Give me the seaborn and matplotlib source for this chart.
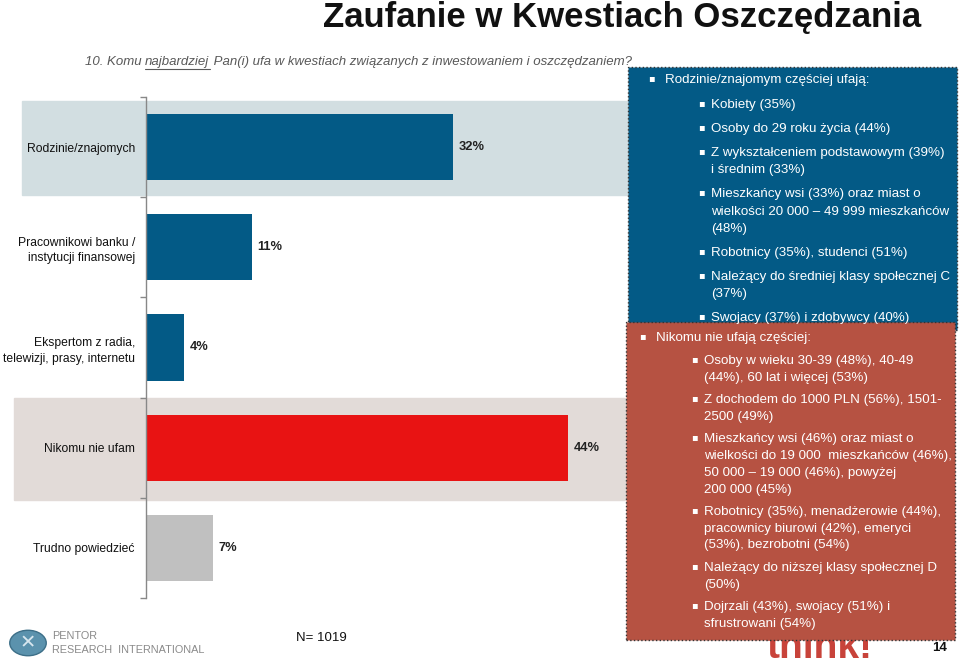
import matplotlib.pyplot as plt
import matplotlib.patches as mpatches
import pandas as pd
import seaborn as sns

# ------------------------------------------------------------------
# DATA
# ------------------------------------------------------------------
categories = [
    "Rodzinie/znajomych",
    "Pracownikowi banku /\ninstytucji finansowej",
    "Ekspertom z radia,\ntelewizji, prasy, internetu",
    "Nikomu nie ufam",
    "Trudno powiedzieć",
]
values = [32, 11, 4, 44, 7]
value_labels = ["32%", "11%", "4%", "44%", "7%"]
bar_colors = ["#035a86", "#035a86", "#035a86", "#e81313", "#c0c0c0"]

title = "Zaufanie w Kwestiach Oszczędzania"
subtitle_parts = ["10. Komu ", "najbardziej", " Pan(i) ufa w kwestiach związanych z inwestowaniem i oszczędzaniem?"]

blue_header = "Rodzinie/znajomym częściej ufają:"
blue_items = [
    ["Kobiety (35%)"],
    ["Osoby do 29 roku życia (44%)"],
    ["Z wykształceniem podstawowym (39%)", "i średnim (33%)"],
    ["Mieszkańcy wsi (33%) oraz miast o", "wielkości 20 000 – 49 999 mieszkańców", "(48%)"],
    ["Robotnicy (35%), studenci (51%)"],
    ["Należący do średniej klasy społecznej C", "(37%)"],
    ["Swojacy (37%) i zdobywcy (40%)"],
]
red_header = "Nikomu nie ufają częściej:"
red_items = [
    ["Osoby w wieku 30-39 (48%), 40-49", "(44%), 60 lat i więcej (53%)"],
    ["Z dochodem do 1000 PLN (56%), 1501-", "2500 (49%)"],
    ["Mieszkańcy wsi (46%) oraz miast o", "wielkości do 19 000  mieszkańców (46%),",
     "50 000 – 19 000 (46%), powyżej", "200 000 (45%)"],
    ["Robotnicy (35%), menadżerowie (44%),", "pracownicy biurowi (42%), emeryci",
     "(53%), bezrobotni (54%)"],
    ["Należący do niższej klasy społecznej D", "(50%)"],
    ["Dojrzali (43%), swojacy (51%) i", "sfrustrowani (54%)"],
]

df = pd.DataFrame({"category": categories, "value": values})

# ------------------------------------------------------------------
# FIGURE
# ------------------------------------------------------------------
sns.set_theme(style="white")
plt.rcParams["font.family"] = ["Liberation Sans", "DejaVu Sans"]

W, H = 960, 670
fig = plt.figure(figsize=(W / 100, H / 100), dpi=100)


def fx(x):
    return x / W


def fy(y):
    return 1 - y / H


ax_left, ax_right, ax_top, ax_bottom = 146, 626, 97, 598
ax = fig.add_axes([fx(ax_left), fy(ax_bottom), fx(ax_right - ax_left), (ax_bottom - ax_top) / H])
ax.patch.set_alpha(0)

# Background bands behind first and fourth category
ax.axhspan(-0.46, 0.48, xmin=(22 - ax_left) / 480, xmax=1.1, color="#d2dee1", zorder=0, clip_on=False)
ax.axhspan(2.5, 3.52, xmin=(14 - ax_left) / 480, xmax=1.1, color="#e2dbd8", zorder=0, clip_on=False)

sns.barplot(
    data=df,
    x="value",
    y="category",
    hue="category",
    palette=bar_colors,
    orient="h",
    width=0.66,
    legend=False,
    saturation=1,
    linewidth=0,
    ax=ax,
    zorder=2,
)

for i, (v, lab) in enumerate(zip(values, value_labels)):
    ax.text(v + 0.6, i, lab, va="center", ha="left", fontsize=9.3,
            fontweight="bold", color="#222222")

ax.set_xlim(0, 50)
ax.set_ylim(4.5, -0.5)
ax.set_xlabel("")
ax.set_ylabel("")
ax.set_xticks([])
ax.set_yticks(range(len(categories)))
ax.set_yticklabels(categories, fontsize=8.7, color="#111111", linespacing=1.4)
ax.set_yticks([i - 0.5 for i in range(len(categories) + 1)], minor=True)
ax.tick_params(axis="y", which="major", length=0, pad=8)
ax.tick_params(axis="y", which="minor", length=4, color="#888888", left=True)
for side in ["top", "right", "bottom"]:
    ax.spines[side].set_visible(False)
ax.spines["left"].set_color("#888888")
ax.spines["left"].set_linewidth(1)

# ------------------------------------------------------------------
# TITLES
# ------------------------------------------------------------------
fig.text(fx(921), fy(17), title, ha="right", va="center", fontsize=25,
         fontweight="bold", color="#111111")

renderer = fig.canvas.get_renderer()
x_cursor = 85
for k, part in enumerate(subtitle_parts):
    t = fig.text(fx(x_cursor), fy(62), part, ha="left", va="center", fontsize=9.5,
                 style="italic", color="#595959")
    bb = t.get_window_extent(renderer=renderer)
    if k == 1:
        fig.add_artist(plt.Line2D([fx(bb.x0), fx(bb.x1)], [fy(69), fy(69)],
                                  color="#595959", lw=0.8))
    x_cursor = bb.x1

# ------------------------------------------------------------------
# SIDE PANELS
# ------------------------------------------------------------------
fig.text(fx(820), fy(648), "think!", ha="center", va="center", fontsize=28,
         fontweight="bold", color="#c8433a", zorder=1)

blue_panel = mpatches.Rectangle((fx(628), fy(330)), fx(957 - 628), (330 - 67) / H,
                                transform=fig.transFigure, facecolor="#035a86",
                                edgecolor="#333333", linestyle=":", lw=1, zorder=3)
red_panel = mpatches.Rectangle((fx(626), fy(640)), fx(955 - 626), (640 - 322) / H,
                               transform=fig.transFigure, facecolor="#b65242",
                               edgecolor="#333333", linestyle=":", lw=1, zorder=4)
fig.add_artist(blue_panel)
fig.add_artist(red_panel)

panel_font = dict(fontsize=9.6, color="white", va="center", ha="left", zorder=5)
bullet_font = dict(fontsize=7, color="white", va="center", ha="left", zorder=5,
                   family=["DejaVu Sans"])


def draw_panel(header, items, x_head, x_item, y_head, y_first, item_gap, line_gap):
    fig.text(fx(x_head - 17), fy(y_head - 2), "▪", **bullet_font)
    fig.text(fx(x_head), fy(y_head), header, **panel_font)
    y = y_first
    for lines in items:
        fig.text(fx(x_item - 13), fy(y - 2), "▪", **bullet_font)
        for line in lines:
            fig.text(fx(x_item), fy(y), line, **panel_font)
            y += line_gap
        y += item_gap - line_gap


draw_panel(blue_header, blue_items, 665, 711, 80, 105, 24, 17.3)
draw_panel(red_header, red_items, 656, 704, 338, 361, 22.5, 16.7)

# ------------------------------------------------------------------
# FOOTER
# ------------------------------------------------------------------
fig.add_artist(mpatches.Circle((fx(28), fy(643)), 0.019, transform=fig.transFigure,
                               facecolor="#5b92ad", edgecolor="#3d6f88", lw=1))
fig.text(fx(28), fy(643), "✕", ha="center", va="center", fontsize=14,
         color="#d7e6ee", family=["DejaVu Sans"])
fig.text(fx(52), fy(636), "PENTOR", ha="left", va="center", fontsize=7.8, color="#8a8a8a")
fig.text(fx(52), fy(650), "RESEARCH  INTERNATIONAL", ha="left",
         va="center", fontsize=7.8, color="#8a8a8a")
fig.text(fx(296), fy(638), "N= 1019", ha="left", va="center", fontsize=9.5, color="#111111")
fig.text(fx(940), fy(648), "14", ha="center", va="center", fontsize=9.5,
         fontweight="bold", color="#111111")

fig.savefig("out.png", dpi=100)
